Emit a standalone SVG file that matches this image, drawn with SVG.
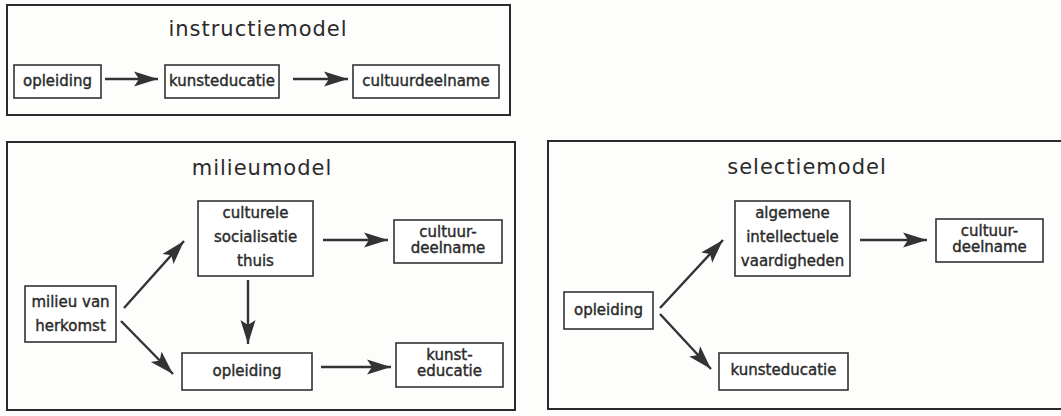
<svg xmlns="http://www.w3.org/2000/svg" width="1061" height="416" viewBox="0 0 1061 416">
<style>
.panel{fill:none;stroke:#2b2b2b;stroke-width:2}
.box{fill:#fff;stroke:#333;stroke-width:1.6}
.t{font-family:"DejaVu Sans","Liberation Sans",sans-serif;font-size:15px;fill:#2a2a2a;text-anchor:middle;stroke:#2a2a2a;stroke-width:0.4}
.title{font-family:"DejaVu Sans","Liberation Sans",sans-serif;font-size:21px;fill:#2a2a2a;text-anchor:middle;letter-spacing:1px}
.c{stroke:#333;stroke-width:2.4;fill:none;marker-end:url(#ah)}
</style>
<defs>
<marker id="ah" markerUnits="userSpaceOnUse" markerWidth="26" markerHeight="16" refX="24" refY="8" orient="auto">
<path d="M0,0.5 L24,8 L0,15.5 L5,8 z" fill="#333"/>
</marker>
</defs>
<rect width="1061" height="416" fill="#fdfdfc"/>
<g id="panels">
<rect class="panel" x="7" y="5" width="503" height="110"/>
<rect class="panel" x="7" y="142" width="508" height="268"/>
<rect class="panel" x="548" y="141" width="520" height="268"/>
<text class="title" x="258" y="36">instructiemodel</text>
<text class="title" x="262" y="175">milieumodel</text>
<text class="title" x="807" y="174">selectiemodel</text>
</g>
<g id="connectors">
<line class="c" x1="105" y1="79" x2="158" y2="79"/>
<line class="c" x1="293" y1="79" x2="348" y2="79"/>
<line class="c" x1="124" y1="308" x2="184" y2="241"/>
<line class="c" x1="121" y1="321" x2="173" y2="374"/>
<line class="c" x1="323" y1="240" x2="388" y2="240"/>
<line class="c" x1="248" y1="280" x2="248" y2="344"/>
<line class="c" x1="321" y1="367" x2="391" y2="367"/>
<line class="c" x1="660" y1="308" x2="723" y2="240"/>
<line class="c" x1="660" y1="314" x2="711" y2="369"/>
<line class="c" x1="860" y1="240" x2="927" y2="240"/>
</g>
<g id="i-opleiding"><rect class="box" x="14" y="65" width="87" height="33"/><text class="t" x="57.5" y="86">opleiding</text></g>
<g id="i-kunsteducatie"><rect class="box" x="165" y="65" width="114" height="33"/><text class="t" x="222" y="86">kunsteducatie</text></g>
<g id="i-cultuurdeelname"><rect class="box" x="353" y="65" width="146" height="33"/><text class="t" x="426" y="86">cultuurdeelname</text></g>
<g id="m-culturele"><rect class="box" x="198" y="201" width="115" height="75"/><text class="t" x="255.5" y="218">culturele</text><text class="t" x="255.5" y="242">socialisatie</text><text class="t" x="255.5" y="266">thuis</text></g>
<g id="m-cultuurdeelname"><rect class="box" x="394" y="220" width="108" height="43"/><text class="t" x="448" y="237">cultuur-</text><text class="t" x="448" y="253">deelname</text></g>
<g id="m-milieu"><rect class="box" x="25" y="286" width="91" height="56"/><text class="t" x="70.5" y="307">milieu van</text><text class="t" x="70.5" y="331">herkomst</text></g>
<g id="m-opleiding"><rect class="box" x="182" y="353" width="130" height="37"/><text class="t" x="247" y="376">opleiding</text></g>
<g id="m-kunsteducatie"><rect class="box" x="396" y="343" width="107" height="44"/><text class="t" x="449.5" y="360">kunst-</text><text class="t" x="449.5" y="376">educatie</text></g>
<g id="s-algemene"><rect class="box" x="735" y="201" width="115" height="75"/><text class="t" x="792.5" y="218">algemene</text><text class="t" x="792.5" y="242">intellectuele</text><text class="t" x="792.5" y="266">vaardigheden</text></g>
<g id="s-cultuurdeelname"><rect class="box" x="936" y="219" width="107" height="43"/><text class="t" x="989.5" y="236">cultuur-</text><text class="t" x="989.5" y="252">deelname</text></g>
<g id="s-opleiding"><rect class="box" x="564" y="292" width="89" height="37"/><text class="t" x="608.5" y="315">opleiding</text></g>
<g id="s-kunsteducatie"><rect class="box" x="719" y="353" width="129" height="37"/><text class="t" x="783.5" y="375">kunsteducatie</text></g>
</svg>
